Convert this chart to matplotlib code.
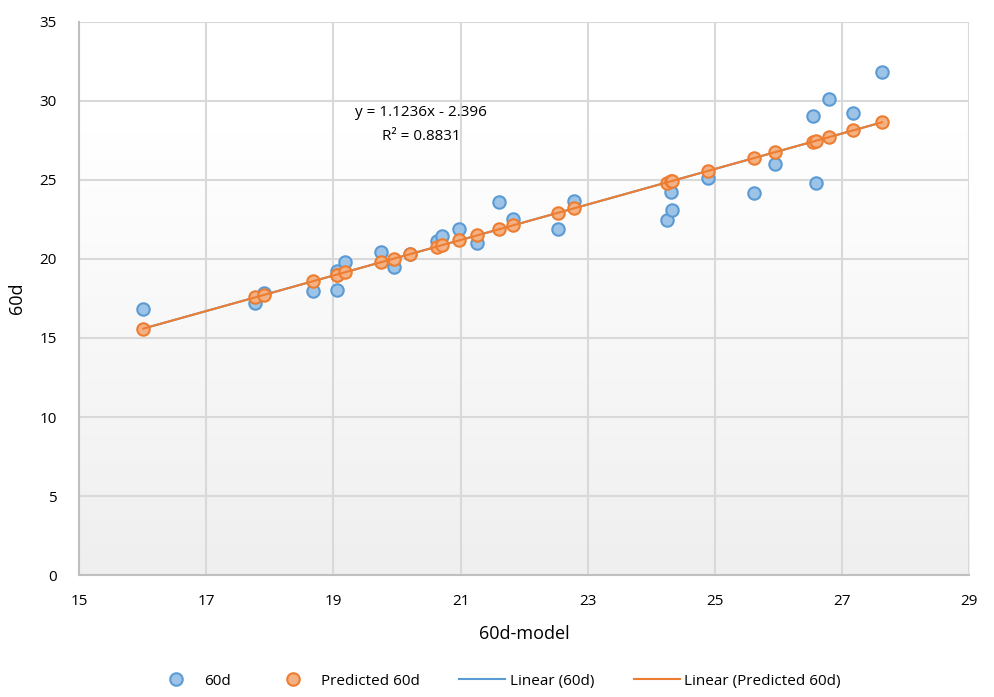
import numpy as np
import matplotlib
matplotlib.use("Agg")
import matplotlib.pyplot as plt
from matplotlib.lines import Line2D

plt.rcParams['font.family'] = ['Open Sans', 'DejaVu Sans']

# data
model_60d = [16.01, 17.77, 17.91, 18.68, 19.05, 19.05, 19.19, 19.75, 19.95, 20.21,
             20.63, 20.71, 20.97, 21.26, 21.60, 21.83, 22.54, 22.78, 24.24, 24.31,
             24.33, 24.90, 25.62, 25.95, 26.54, 26.59, 26.79, 27.18, 27.63]
actual_60d = [16.84, 17.22, 17.85, 17.97, 19.26, 18.04, 19.83, 20.46, 19.47, 20.30,
              21.14, 21.47, 21.90, 21.03, 23.61, 22.51, 21.90, 23.67, 22.47, 24.24,
              23.10, 25.10, 24.20, 26.01, 29.03, 24.81, 30.11, 29.22, 31.82]
predicted_60d = [15.59, 17.57, 17.73, 18.59, 19.01, 19.01, 19.17, 19.80, 20.02, 20.31,
                 20.78, 20.87, 21.17, 21.49, 21.87, 22.13, 22.93, 23.20, 24.84, 24.92,
                 24.94, 25.58, 26.39, 26.76, 27.43, 27.48, 27.71, 28.14, 28.65]
slope = 1.1236
intercept = -2.396
r2 = 0.8831
x_ticks = [15, 17, 19, 21, 23, 25, 27, 29]
y_ticks = [0, 5, 10, 15, 20, 25, 30, 35]

fig = plt.figure(figsize=(9.94, 6.97), dpi=100)
ax = fig.add_axes([0.0795, 0.175, 0.8955, 0.7935])

# gradient background (white at top -> light gray at bottom)
grad = np.linspace(0, 1, 256).reshape(-1, 1)
grad = np.clip((grad - 0.2) / 0.8, 0, 1)
top = np.array([1.0, 1.0, 1.0])
bot = np.array([0xef, 0xef, 0xef]) / 255.0
img = top + (bot - top) * grad[..., None]
ax.imshow(img, extent=[15, 29, 0, 35], aspect='auto', zorder=0, origin='upper')

ax.set_xlim(15, 29)
ax.set_ylim(0, 35)
ax.set_xticks(x_ticks)
ax.set_yticks(y_ticks)
ax.grid(True, color='#d9d9d9', linewidth=1.5, zorder=1)
ax.set_axisbelow(True)
for s in ['top', 'right']:
    ax.spines[s].set_visible(False)
for s in ['left', 'bottom']:
    ax.spines[s].set_color('#bfbfbf')
    ax.spines[s].set_linewidth(1.5)
ax.tick_params(length=0, labelsize=11, colors='#000000')
ax.tick_params(axis='x', pad=14)
ax.tick_params(axis='y', pad=16)

xs = np.array([min(model_60d), max(model_60d)])
ax.plot(xs, slope * xs + intercept, color='#5b9bd5', lw=1.5, zorder=3)
ax.scatter(model_60d, actual_60d, s=80, facecolor='#9dc3e6', edgecolor='#5b9bd5',
           linewidth=1.5, zorder=4)
ax.scatter(model_60d, predicted_60d, s=80, facecolor='#f4b183', edgecolor='#ed7d31',
           linewidth=1.5, zorder=5)
ax.plot(xs, slope * xs + intercept, color='#ed7d31', lw=1.5, zorder=6)

ax.text(20.38, 29.24, f"y = {slope}x - {abs(intercept)}", ha='center', va='center', fontsize=11)
ax.text(20.38, 27.78, f"R² = {r2}", ha='center', va='center', fontsize=11)

ax.set_xlabel('60d-model', fontsize=13, labelpad=11)
ax.set_ylabel('60d', fontsize=13, labelpad=10)

handles = [
    Line2D([], [], marker='o', ls='none', markersize=9, markerfacecolor='#9dc3e6',
           markeredgecolor='#5b9bd5', markeredgewidth=1.5),
    Line2D([], [], marker='o', ls='none', markersize=9, markerfacecolor='#f4b183',
           markeredgecolor='#ed7d31', markeredgewidth=1.5),
    Line2D([], [], color='#5b9bd5', lw=1.5),
    Line2D([], [], color='#ed7d31', lw=1.5),
]
fig.legend(handles, ['60d', 'Predicted 60d', 'Linear (60d)', 'Linear (Predicted 60d)'],
           loc='lower center', bbox_to_anchor=(0.5, -0.008), ncol=4, frameon=False,
           fontsize=11, handlelength=3.0, columnspacing=2.6, handletextpad=0.3)

fig.savefig('out.png', dpi=100)
